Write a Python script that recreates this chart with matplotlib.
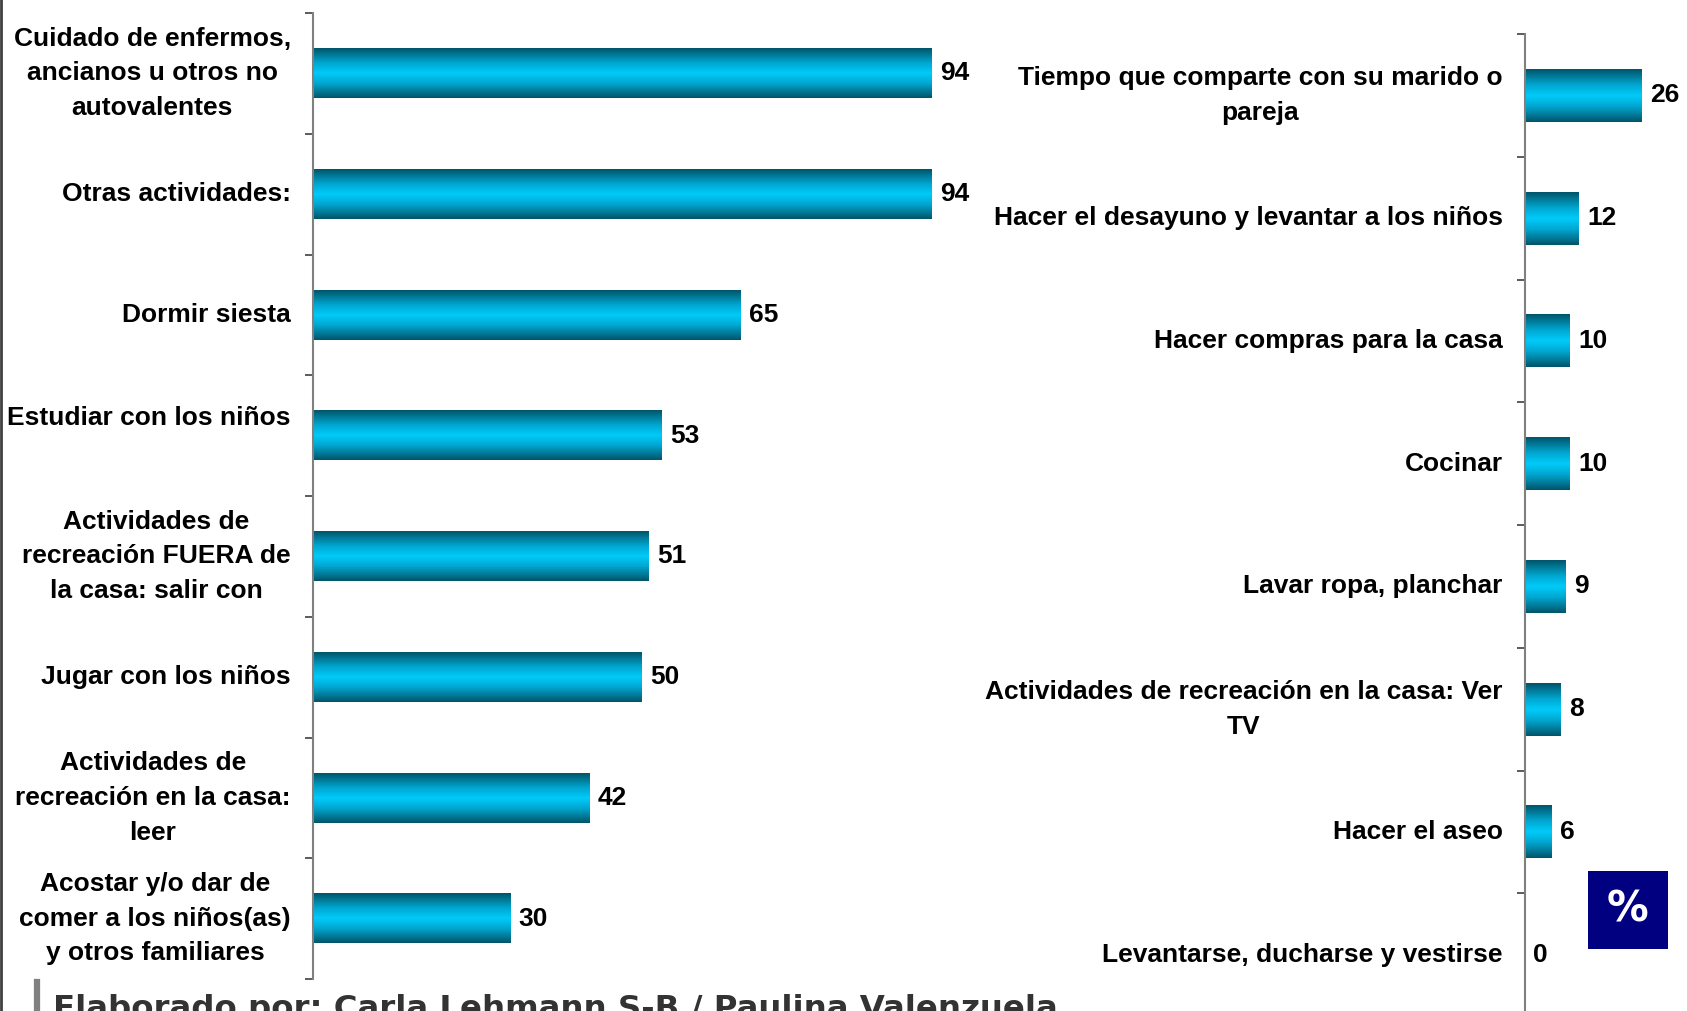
import numpy as np
import matplotlib.pyplot as plt
from matplotlib.colors import LinearSegmentedColormap
from matplotlib.patches import Rectangle
from matplotlib.lines import Line2D

# datos del grafico (porcentajes)
actividades_izq = [
    'Cuidado de enfermos,\nancianos u otros no\nautovalentes',
    'Otras actividades:',
    'Dormir siesta',
    'Estudiar con los niños\n',
    'Actividades de\nrecreación FUERA de\nla casa: salir con',
    'Jugar con los niños',
    'Actividades de\nrecreación en la casa:\nleer',
    'Acostar y/o dar de\ncomer a los niños(as)\ny otros familiares',
]
valores_izq = [94, 94, 65, 53, 51, 50, 42, 30]

actividades_der = [
    'Tiempo que comparte con su marido o\npareja',
    'Hacer el desayuno y levantar a los niños',
    'Hacer compras para la casa',
    'Cocinar',
    'Lavar ropa, planchar',
    'Actividades de recreación en la casa: Ver\nTV',
    'Hacer el aseo',
    'Levantarse, ducharse y vestirse',
]
valores_der = [26, 12, 10, 10, 9, 8, 6, 0]

autor = 'Elaborado por: Carla Lehmann S-B / Paulina Valenzuela'

# degradado de las barras (oscuro en los bordes, cian en el centro)
cmap_barra = LinearSegmentedColormap.from_list(
    'barra', [(0, '#00566b'), (0.3, '#00a8d2'), (0.5, '#00cbfa'),
              (0.7, '#00a8d2'), (1, '#00566b')])
gradiente = np.linspace(0, 1, 100).reshape(-1, 1)

fuente = 'Liberation Sans'
tam = 19

fig = plt.figure(figsize=(16.87, 10.11), dpi=100)


def panel(ax, etiquetas, valores, xmax, alto_barra):
    n = len(etiquetas)
    pos = np.arange(n)
    barras = ax.barh(pos, valores, height=alto_barra, color='none', zorder=2)
    for i, (b, v) in enumerate(zip(barras, valores)):
        x0, y0 = b.get_x(), b.get_y()
        ax.imshow(gradiente, extent=[x0, x0 + b.get_width(), y0, y0 + b.get_height()],
                  aspect='auto', cmap=cmap_barra, zorder=2, interpolation='bilinear')
        ax.annotate(f'{v}', (x0 + b.get_width(), pos[i]),
                    xytext=(6, 0), textcoords='offset points', va='center', ha='left',
                    fontsize=tam, fontweight='bold', family=fuente)
    ax.set_xlim(0, xmax)
    ax.set_ylim(n - 0.5, -0.5)
    ax.set_yticks(pos)
    ax.set_yticklabels(etiquetas)
    ax.set_yticks(np.arange(-0.5, n, 1), minor=True)
    ax.tick_params(axis='y', which='major', length=0, pad=16)
    ax.tick_params(axis='y', which='minor', length=6, width=1.2, color='#404040', direction='out')
    for lbl in ax.get_yticklabels():
        lbl.set_fontsize(tam)
        lbl.set_fontweight('bold')
        lbl.set_family(fuente)
        lbl.set_multialignment('center')
        lbl.set_verticalalignment('center')
        lbl.set_linespacing(1.57)
    ax.xaxis.set_visible(False)
    for lado in ['top', 'right', 'bottom']:
        ax.spines[lado].set_visible(False)
    ax.spines['left'].set_color('#808080')
    ax.spines['left'].set_linewidth(1.5)
    ax.patch.set_alpha(0)


ax1 = fig.add_axes([313 / 1687, 1 - 979 / 1011, 658 / 1687, 966 / 1011])
panel(ax1, actividades_izq, valores_izq, 100, 0.41)

ax2 = fig.add_axes([1525 / 1687, 1 - 1016 / 1011, 162 / 1687, 982 / 1011])
panel(ax2, actividades_der, valores_der, 36, 0.43)

# caja con el simbolo de porcentaje
fig.patches.append(Rectangle((1588 / 1687, 1 - 949 / 1011), 80 / 1687, 78 / 1011,
                             transform=fig.transFigure, facecolor='#000080', edgecolor='none'))
fig.text(1628 / 1687, 1 - 910 / 1011, '%', color='white', fontsize=30, fontweight='bold',
         ha='center', va='center', family='DejaVu Sans')

# borde izquierdo y pie de autoria (cortado por el borde inferior, como en el original)
fig.add_artist(Line2D([0.0008, 0.0008], [0, 1], color='#404040', linewidth=2, transform=fig.transFigure))
fig.add_artist(Line2D([37 / 1687, 37 / 1687], [0, 1 - 982 / 1011], color='#808080', linewidth=4.5,
                      transform=fig.transFigure))
fig.text(53 / 1687, 1 - 1018 / 1011, autor, color='#333333', fontsize=23.3, fontweight='bold',
         ha='left', va='baseline', family='DejaVu Sans')

plt.savefig('out.png', dpi=100)
